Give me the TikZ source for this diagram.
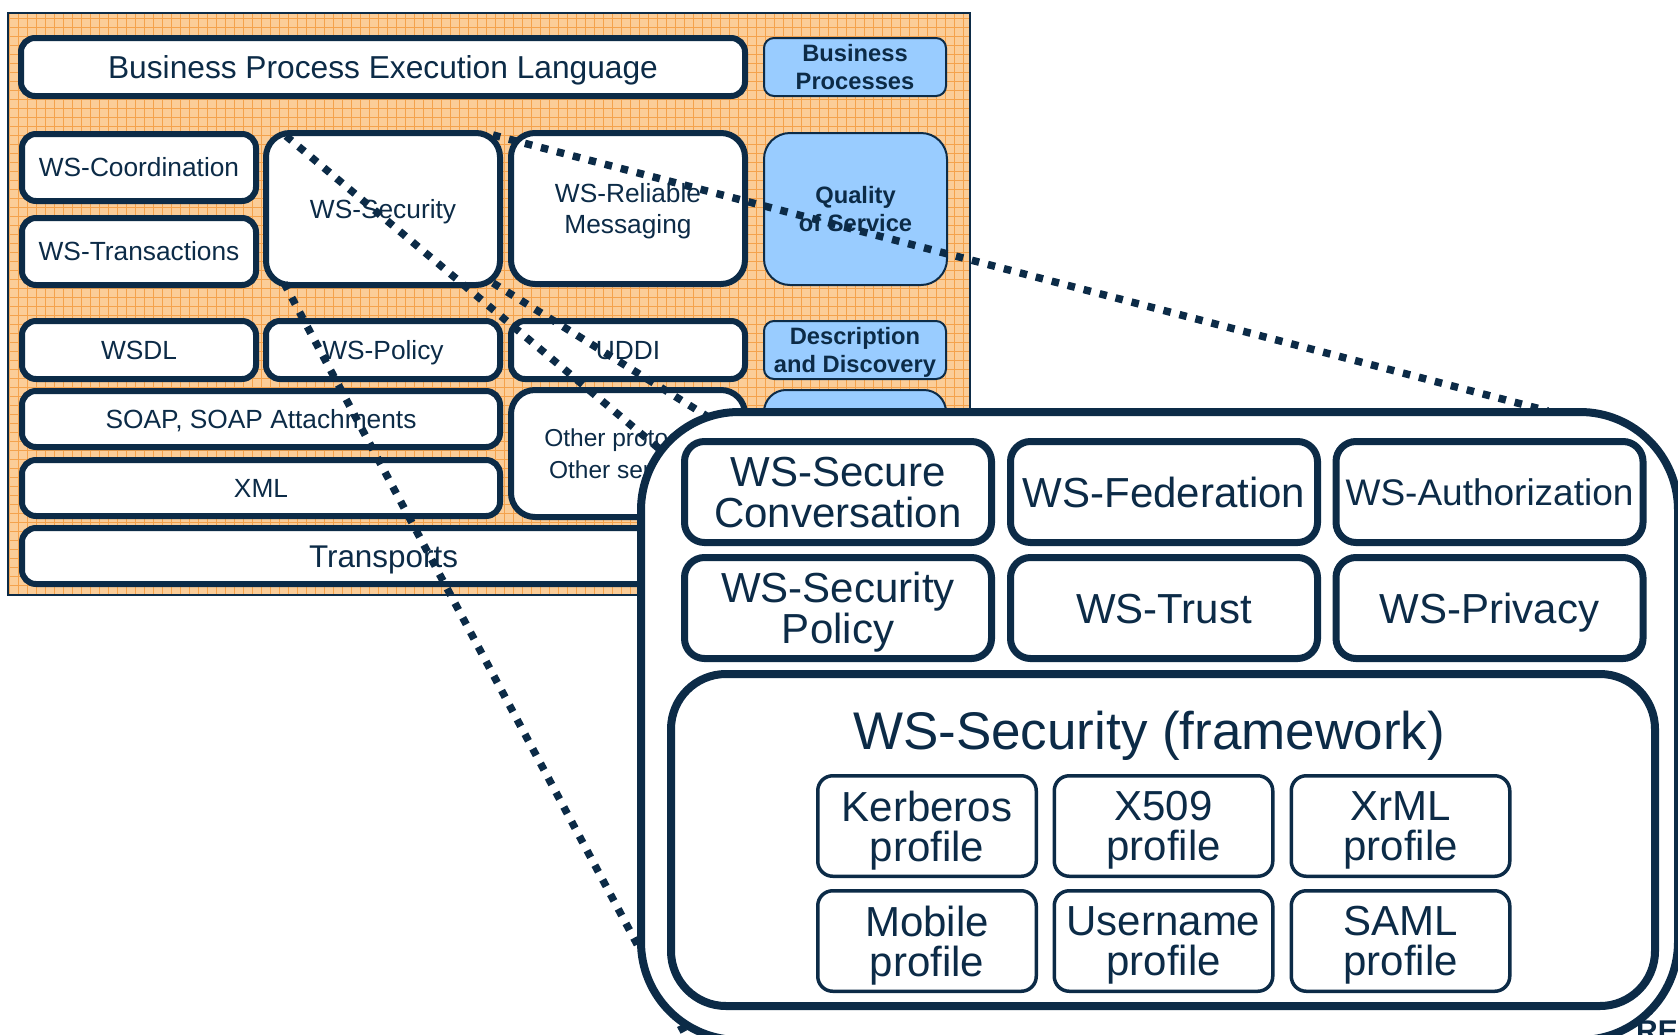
\documentclass[tikz,border=0pt]{standalone}
\usepackage{fontspec}
\setmainfont{Liberation Sans}
\usetikzlibrary{calc}
\definecolor{navy}{HTML}{0C2B47}
\definecolor{skyfill}{HTML}{99CCFF}
\definecolor{peach}{HTML}{FBCD98}
\definecolor{peachline}{HTML}{F4A24C}
\newcommand\setfs[2]{\fontsize{#1}{#2}\selectfont}

\begin{document}
\begin{tikzpicture}[x=1pt,y=-1pt,
  blk/.style={draw=navy, fill=white, line width=6pt, rounded corners=14pt, inner sep=0pt,
              text=navy, align=center, font=\setfs{26.3}{31}},
  big/.style={blk, rounded corners=24pt},
  tag/.style={draw=navy, fill=skyfill, line width=2pt, rounded corners=10pt, inner sep=0pt,
              text=navy, align=center, font=\bfseries\setfs{23.7}{28.5}, text depth=0pt},
  one/.style={text height=#1, text depth=0pt},
  one/.default=18.8pt,
  multi/.style={text depth=0pt},
  zoomline/.style={draw=navy, line width=7.5pt, dash pattern=on 7.5pt off 9pt},
  spec/.style={draw=navy, fill=white, line width=7pt, rounded corners=20pt, inner sep=0pt,
               text=navy, align=center, font=\setfs{42}{41}, minimum width=307pt, minimum height=101pt},
  prof/.style={draw=navy, fill=white, line width=3.5pt, rounded corners=15pt, inner sep=0pt,
               text=navy, align=center, font=\setfs{42}{40}, text depth=0pt,
               minimum width=218.5pt, minimum height=100.5pt},
]
\clip (0,0) rectangle (1678,1034);

% web services stack background
\begin{scope}
  \clip (8,13) rectangle (970,595);
  \fill[peach] (8,13) rectangle (970,595);
  \draw[peachline, line width=0.9pt, step=9pt] (8,595) grid (970,13);
\end{scope}
\draw[navy, line width=2pt] (8,13) rectangle (970,595);

% stack layers
\node[blk, minimum width=724pt, minimum height=58pt, one=22.7pt, font=\setfs{31.7}{38}] (bpel) at (383,67) {Business Process Execution Language};
\node[tag, minimum width=182pt, minimum height=58pt] (bizproc) at (855,67) {Business\\Processes};

\node[blk, minimum width=234pt, minimum height=67pt, one] (coord) at (139,167.5) {WS-Coordination};
\node[blk, minimum width=234pt, minimum height=67pt, one] (trans) at (139,251.5) {WS-Transactions};
\node[big, minimum width=234pt, minimum height=152pt, one] (wssec) at (383,209) {WS-Security};
\node[big, minimum width=234pt, minimum height=151pt, multi] (wsrm) at (628,208.5) {WS-Reliable\\Messaging};
\node[tag, rounded corners=26pt, minimum width=183pt, minimum height=152pt] (qos) at (855.5,209) {Quality\\of Service};

\node[blk, minimum width=234pt, minimum height=58pt, one] (wsdl) at (139,350) {WSDL};
\node[blk, minimum width=234pt, minimum height=58pt, one] (policy) at (383,350) {WS-Policy};
\node[blk, minimum width=234pt, minimum height=58pt, one] (uddi) at (628,350) {UDDI};
\node[tag, minimum width=182pt, minimum height=58pt] (desc) at (855,350) {Description\\and Discovery};
\node[tag, rounded corners=22pt, minimum width=182pt, minimum height=120pt] (msgtag) at (855,450) {};

\node[blk, minimum width=478pt, minimum height=56pt, one] (soap) at (261,419) {SOAP, SOAP Attachments};
\node[blk, minimum width=478pt, minimum height=56pt, one] (xml) at (261,488) {XML};
\node[big, minimum width=234pt, minimum height=127pt, multi, font=\setfs{24.5}{32}] (other) at (628,453.5) {Other protocols\\Other services};
\node[blk, minimum width=723pt, minimum height=56pt, one=22.5pt, font=\setfs{31.4}{38}] (transp) at (383.5,556) {Transports};

% zoom guide lines from the WS-Security block
\coordinate (endA) at (700,483);
\coordinate (endB) at (1548,411);
\coordinate (endC) at (685,1034);
\coordinate (endD) at (750,443);
\draw[zoomline] ([shift={(23,6)}]wssec.north west) -- (endA);
\draw[zoomline] ([shift={(-10,5)}]wssec.north east) -- (endB);
\draw[zoomline] ([shift={(21,-5)}]wssec.south west) -- (endC);
\draw[zoomline] ([shift={(-10,-5)}]wssec.south east) -- (endD);

\node[anchor=base west, inner sep=0pt, text=navy, font=\bfseries\setfs{30}{31}] (logo) at (1636,1041.5) {RE};

% enlarged security panel
\node[draw=navy, fill=white, line width=8pt, rounded corners=98pt, inner sep=0pt,
      minimum width=1037pt, minimum height=628pt] (panel) at (1159.5,726) {};

\node[spec, multi] (secconv) at (838,492) {WS-Secure\\Conversation};
\node[spec, one=30.1pt] (fed) at (1164,492) {WS-Federation};
\node[spec, one=26.5pt, font=\setfs{37}{40}] (authz) at (1489.5,492) {WS-Authorization};
\node[spec, multi] (secpol) at (838,608) {WS-Security\\Policy};
\node[spec, one=30.1pt] (trust) at (1164,608) {WS-Trust};
\node[spec, one=30.1pt] (privacy) at (1489.5,608) {WS-Privacy};

\node[draw=navy, fill=white, line width=8pt, rounded corners=55pt, inner sep=0pt,
      minimum width=984pt, minimum height=332pt] (frame) at (1163,840) {};
\node[anchor=base, inner sep=0pt, text=navy, font=\setfs{53}{60}] (frametitle) at (1149,749) {WS-Security (framework)};

\node[prof] (kerb) at (927,826) {Kerberos\\profile};
\node[prof] (x509) at (1163.5,826) {X509\\profile};
\node[prof] (xrml) at (1400.5,826) {XrML\\profile};
\node[prof] (mobile) at (927,941) {Mobile\\profile};
\node[prof] (user) at (1163.5,941) {Username\\profile};
\node[prof] (saml) at (1400.5,941) {SAML\\profile};
\end{tikzpicture}
\end{document}
